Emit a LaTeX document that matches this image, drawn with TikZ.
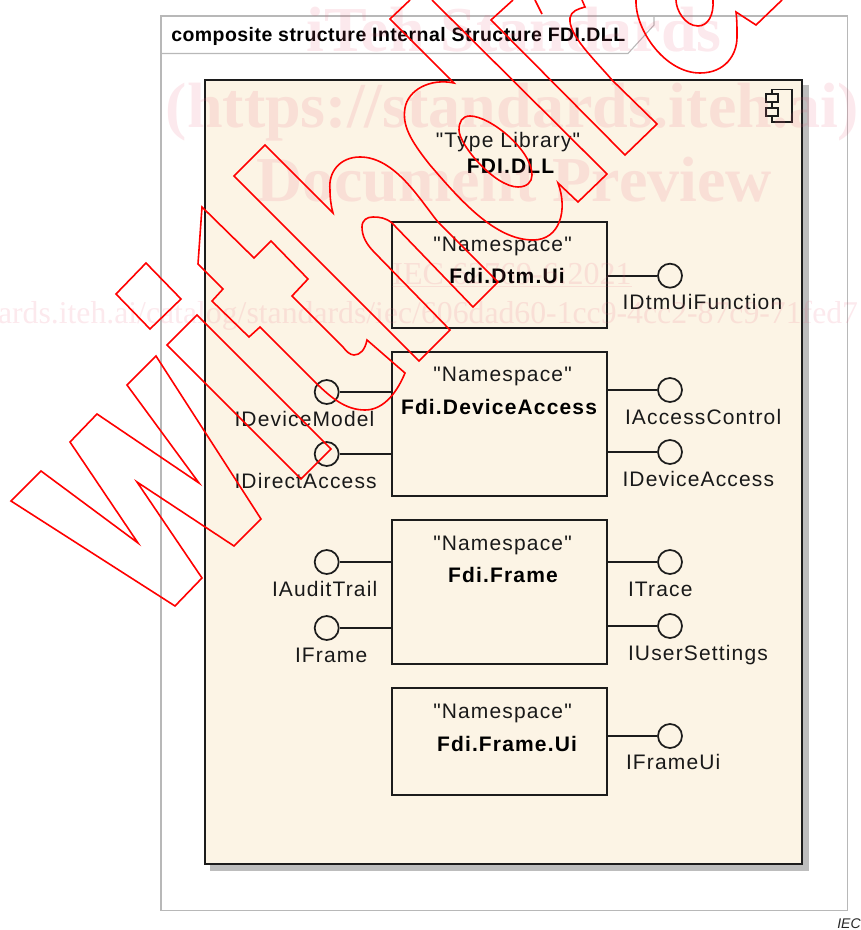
\documentclass[tikz,border=0pt]{standalone}
\usepackage{fontspec}
\setmainfont{Liberation Sans}
\newfontfamily\bodyf[LetterSpace=5.5]{Liberation Sans}
\newfontfamily\titlef[LetterSpace=2.4]{Liberation Sans}
\newfontfamily\wmfont{Liberation Serif}
\newfontfamily\plainsans{Liberation Sans}
\definecolor{framegray}{HTML}{B8B8B8}
\definecolor{shadowgray}{HTML}{BDBDBD}
\definecolor{compfill}{HTML}{FCF4E5}
\definecolor{inkdark}{HTML}{1C1C1C}
\definecolor{wmpink}{HTML}{E8607C}
\definecolor{wmred}{HTML}{FF0000}
\tikzset{
  nsbox/.style={draw=inkdark,line width=1.5pt,fill=compfill,rectangle,minimum width=160.8pt,inner sep=0pt},
  iface/.style={draw=inkdark,line width=1.3pt,circle,minimum size=18pt,inner sep=0pt,fill=compfill},
  conn/.style={draw=inkdark,line width=1.4pt},
  lbl/.style={anchor=base west,inner sep=0pt,outer sep=0pt,text=black!90,font=\fontsize{15.75}{18}\selectfont\bodyf},
  stereo/.style={anchor=base,inner sep=0pt,outer sep=0pt,text=black!90,font=\fontsize{15.75}{18}\selectfont\bodyf},
  bname/.style={anchor=base,inner sep=0pt,outer sep=0pt,text=black,font=\fontsize{15.75}{18}\selectfont\bodyf\bfseries},
  wmtext/.style={anchor=base,inner sep=0pt,outer sep=0pt,text=wmpink,text opacity=0.14},
  wmline/.style={draw=wmred,line width=1.2pt,line join=miter},
}
\begin{document}
\begin{tikzpicture}[x=0.75pt,y=-0.75pt]
\useasboundingbox (0,0) rectangle (860,930);
\clip (0,0) rectangle (860,930);
% outer frame
\draw[framegray,line width=0.8pt] (161,16) rectangle (847.7,910.5);
\coordinate (tabL) at (161,53.5);
\coordinate (tabM) at (628,53.5);
\coordinate (tabR) at (654,25);
\coordinate (tabT) at (654,16);
\draw[framegray,line width=0.8pt] (tabL) -- (tabM) -- (tabR) -- (tabT);
\node[anchor=base west,inner sep=0pt,text=black] (title) at (171,42)
  {\fontsize{14.6}{16}\selectfont\titlef\bfseries composite structure Internal Structure FDI.DLL};
% component
\fill[shadowgray] (210,85) rectangle (809,871);
\draw[fill=compfill,draw=inkdark,line width=1.6pt] (205,80) rectangle (802,864);
% component icon
\draw[fill=compfill,draw=inkdark,line width=1.3pt] (772,89.5) rectangle (792.3,122.3);
\draw[fill=compfill,draw=inkdark,line width=1.3pt] (765.7,93.7) rectangle (777.7,101.7);
\draw[fill=compfill,draw=inkdark,line width=1.3pt] (765.7,107.7) rectangle (777.7,115.7);
\node[stereo] (tl) at (508,148) {"Type Library"};
\node[bname] (fdi) at (510.5,173.5) {FDI.DLL};
% namespace boxes
\node[nsbox,minimum height=80pt] (dtm) at (499.5,275) {};
\node[nsbox,minimum height=107.5pt] (dev) at (499.5,424) {};
\node[nsbox,minimum height=108pt] (frm) at (499.5,592.3) {};
\node[nsbox,minimum height=79.8pt] (fui) at (499.5,741.5) {};
\node[stereo] (s1) at (502.5,251.7) {"Namespace"};
\node[stereo] (s2) at (502.5,381.7) {"Namespace"};
\node[stereo] (s3) at (502.5,550) {"Namespace"};
\node[stereo] (s4) at (502.5,718) {"Namespace"};
\node[bname] (n1) at (507,283.7) {Fdi.Dtm.Ui};
\node[bname] (n2) at (499,414) {Fdi.DeviceAccess};
\node[bname] (n3) at (503,582) {Fdi.Frame};
\node[bname] (n4) at (507,751) {Fdi.Frame.Ui};
% interfaces
\node[iface] (i1) at (670,275.7) {};
\node[iface] (i2) at (670,390) {};
\node[iface] (i3) at (670,452) {};
\node[iface] (i4) at (670,562) {};
\node[iface] (i5) at (670,626) {};
\node[iface] (i6) at (670,736) {};
\node[iface] (i7) at (326.7,392) {};
\node[iface] (i8) at (326.7,454) {};
\node[iface] (i9) at (326.7,562) {};
\node[iface] (i10) at (326.7,628) {};
\draw[conn] (dtm.east |- i1) -- (i1);
\draw[conn] (dev.east |- i2) -- (i2);
\draw[conn] (dev.east |- i3) -- (i3);
\draw[conn] (frm.east |- i4) -- (i4);
\draw[conn] (frm.east |- i5) -- (i5);
\draw[conn] (fui.east |- i6) -- (i6);
\draw[conn] (i7) -- (dev.west |- i7);
\draw[conn] (i8) -- (dev.west |- i8);
\draw[conn] (i9) -- (frm.west |- i9);
\draw[conn] (i10) -- (frm.west |- i10);
\node[lbl] (l1) at (622.5,309.5) {IDtmUiFunction};
\node[lbl] (l2) at (625,424) {IAccessControl};
\node[lbl] (l3) at (622.5,486) {IDeviceAccess};
\node[lbl] (l4) at (628,596.7) {ITrace};
\node[lbl] (l5) at (628,660.5) {IUserSettings};
\node[lbl] (l6) at (626,769.5) {IFrameUi};
\node[lbl] (l7) at (234.5,426) {IDeviceModel};
\node[lbl] (l8) at (234.5,488) {IDirectAccess};
\node[lbl] (l9) at (272,596) {IAuditTrail};
\node[lbl] (l10) at (295,662) {IFrame};
\node[anchor=base west,inner sep=0pt,text=black!85] (iec) at (837,928)
  {\fontsize{10.5}{12}\selectfont\plainsans\itshape IEC};
% watermark text
\node[wmtext,font=\fontsize{48}{50}\selectfont\wmfont\bfseries] (w1) at (514,52) {iTeh Standards};
\node[wmtext,font=\fontsize{48}{50}\selectfont\wmfont\bfseries] (w2) at (512.5,127.5) {(https://standards.iteh.ai)};
\node[wmtext,font=\fontsize{48}{50}\selectfont\wmfont\bfseries] (w3) at (514,202) {Document Preview};
\node[wmtext,font=\fontsize{24}{26}\selectfont\wmfont] (w4) at (512,284) {\underline{IEC 62769-6:2021}};
\node[wmtext,anchor=base west,font=\fontsize{23.8}{26}\selectfont\wmfont] (w5) at (-2,323)
  {ards.iteh.ai/catalog/standards/iec/606dad60-1cc9-4cc2-87c9-71fed7};
% watermark outlines
\draw[wmline] (41,471) -- (138,543) -- (70,442) -- (97,414) -- (199,483) -- (127,385) -- (156,356) -- (261,519) -- (234,546) -- (137,482) -- (202,578) -- (175,606) -- (11,501) -- cycle;
\draw[wmline] (146,263) -- (181,299) -- (150,329) -- (116,294) -- cycle;
\draw[wmline] (197,315) -- (331,449) -- (301,479) -- (167,345) -- cycle;
\draw[wmline] (202,207) -- (198,264) -- (223,289) -- (212,301) -- (249,337) -- (260,327) -- (313,380)
  .. controls (330,397) and (345,410) .. (365,410) .. controls (385,410) and (398,390) .. (405,373)
  -- (367,340) .. controls (365,350) and (360,355) .. (354,355) .. controls (350,355) and (346,351) .. (343,347)
  -- (292,296) -- (308,279) -- (271,241) -- (254,258) -- cycle;
\draw[wmline] (265,145) -- (234,176) -- (419,361) -- (450,330) -- (375,253)
  .. controls (366,244) and (362,236) .. (362,227) .. controls (362,220) and (367,217) .. (373,217)
  .. controls (380,217) and (386,218) .. (392,223) -- (473,307) -- (498,282) -- (438,222)
  .. controls (420,200) and (395,157) .. (360,157) .. controls (340,157) and (328,172) .. (330,190)
  .. controls (330,198) and (331,206) .. (333,213) -- cycle;
\draw[wmline] (432,0) -- (607,174) -- (578,202) -- (558,183)
  .. controls (568,210) and (560,240) .. (533,240) .. controls (495,240) and (460,200) .. (430,165)
  .. controls (410,140) and (402,125) .. (405,108) .. controls (408,90) and (430,78) .. (454,83)
  -- (390,19) -- (410,0);
\draw[wmline] (470,116) .. controls (462,116) and (459,122) .. (459,130)
  .. controls (459,145) and (495,187) .. (518,187) .. controls (527,187) and (532,182) .. (532,175)
  .. controls (532,150) and (490,116) .. (470,116) -- cycle;
\draw[wmline] (513,0) -- (491,20) -- (625,155) -- (657,124) -- (612,80)
  .. controls (595,60) and (568,35) .. (570,18) .. controls (571,11) and (578,9) .. (585,7) -- (582,0);
\draw[wmline] (535,0) -- (542,14);
\draw[wmline] (636,0) .. controls (635,30) and (665,73) .. (700,73) .. controls (725,73) and (737,55) .. (737,37)
  .. controls (737,28) and (737,20) .. (736,12) -- (756,25) -- (782,0);
\draw[wmline] (676,0) .. controls (676,10) and (685,26) .. (698,26) .. controls (708,26) and (714,15) .. (713,0);
\end{tikzpicture}
\end{document}
